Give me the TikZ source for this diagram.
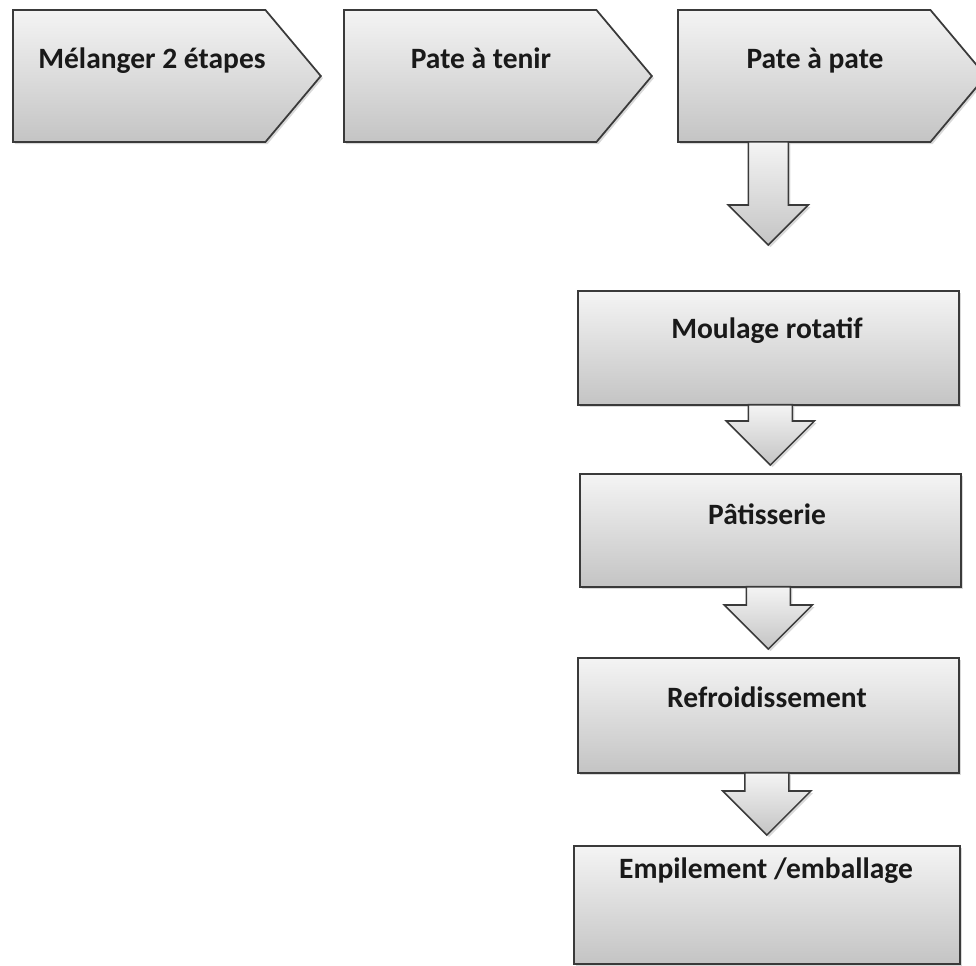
\documentclass[tikz,border=0pt]{standalone}
\usepackage{fontspec}
\setmainfont{Carlito}
\usetikzlibrary{shapes.symbols,shadows,calc}

\definecolor{boxtop}{RGB}{244,244,244}
\definecolor{boxbot}{RGB}{196,196,196}
\definecolor{edge}{RGB}{58,58,58}

\tikzset{
	stepshade/.style = {draw = edge, line width = 1pt, top color = boxtop, bottom color = boxbot,
		drop shadow = {shadow xshift = 1.2pt, shadow yshift = -1.2pt, opacity = 0.3}},
	chevron/.style = {stepshade, signal, signal to = east, signal pointer angle = 100,
		minimum width = 6.16cm, minimum height = 2.64cm, inner sep = 0pt, anchor = west},
	stage/.style = {stepshade, rectangle, minimum width = 7.62cm, minimum height = 2.28cm,
		inner sep = 0pt, anchor = north west},
	lbl/.style = {font = \fontsize{16.8}{19}\selectfont\bfseries, text = black!90, anchor = base, inner sep = 0pt},
	arr/.style = {stepshade, line width = 0.9pt}
}

%	block arrow: from, to, gap above target, half shaft width
\newcommand{\blockarrow}[4]{%
	\draw[arr] ($(#2.north |- #1.south)+(-#4,1)$) |- ($(#2.north)+(-2*#4,#3+2*#4)$)
		-- ($(#2.north)+(0,#3)$) -- ($(#2.north)+(2*#4,#3+2*#4)$)
		-| ($(#2.north |- #1.south)+(#4,1)$) -- cycle;}

\begin{document}
\begin{tikzpicture}[x = 0.02cm, y = 0.02cm]
	\useasboundingbox (0, 0) rectangle (976, -965);
	
	%	chevrons
	\node[chevron] (mel) at (12, -76) {};
	\node[chevron] (tenir) at (343, -76) {};
	\node[chevron] (pate) at (677, -76) {};
	
	\node[lbl] (melT) at (152, -68) {Mélanger 2 étapes};
	\node[lbl] (tenirT) at (481, -68) {Pate à tenir};
	\node[lbl] (pateT) at (815, -68) {Pate à pate};
	
	%	stages
	\node[stage] (moul) at (577, -290) {};
	\node[stage, minimum height = 2.26cm] (pat) at (579, -473) {};
	\node[stage, minimum height = 2.3cm] (ref) at (577, -657) {};
	\node[stage, minimum width = 7.72cm, minimum height = 2.36cm] (emp) at (573, -845) {};
	
	\node[lbl] (moulT) at (767, -338) {Moulage rotatif};
	\node[lbl] (patT) at (767, -524) {Pâtisserie};
	\node[lbl] (refT) at (767, -707) {Refroidissement};
	\node[lbl] (empT) at (766, -878) {Empilement /emballage};
	
	%	arrows
	\blockarrow{pate}{moul}{45}{20}
	\blockarrow{moul}{pat}{8}{22}
	\blockarrow{pat}{ref}{8}{22}
	\blockarrow{ref}{emp}{10}{22}
\end{tikzpicture}
\end{document}
